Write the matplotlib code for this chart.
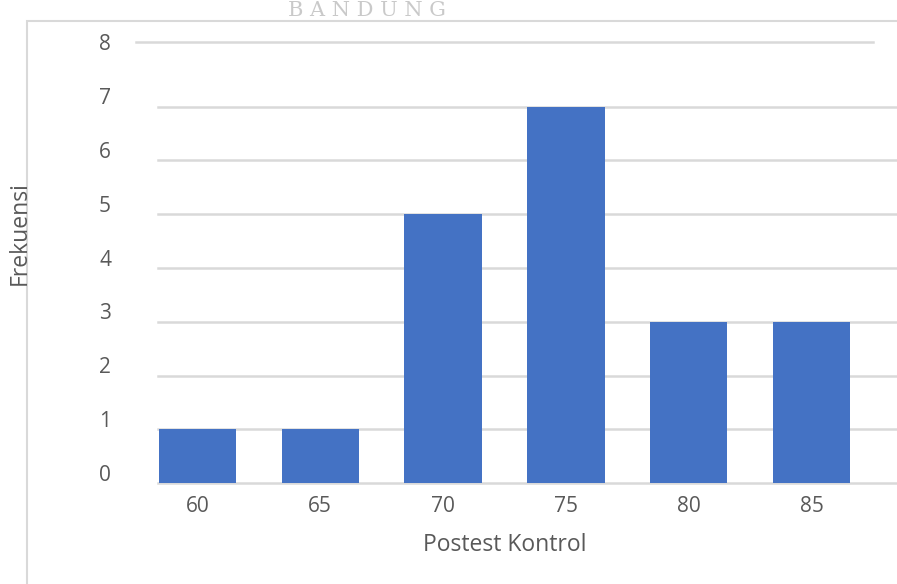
import matplotlib.pyplot as plt
import matplotlib.transforms as mtransforms
from matplotlib.patches import Rectangle

BAR_BLUE = '#4472C4'
GRID_GRAY = '#D9D9D9'
TEXT_GRAY = '#595959'

# Data
categories = ['60', '65', '70', '75', '80', '85']
frequencies = [1, 1, 5, 7, 3, 3]
y_ticks = [0, 1, 2, 3, 4, 5, 6, 7, 8]

plt.rcParams['font.family'] = ['Open Sans', 'DejaVu Sans']

fig = plt.figure(figsize=(8.97, 5.84), dpi=100, facecolor='white')

# chart frame (cropped from a document page)
fig.patches.append(Rectangle((27 / 897, -0.1), 1.1, 1 - 21 / 584 + 0.1,
                             transform=fig.transFigure, fill=False,
                             edgecolor=GRID_GRAY, linewidth=1.5))

# watermark remnant at the top
fig.text(367 / 897, 1 - 11 / 584, 'B A N D U N G', ha='center', va='center',
         fontsize=15, color='#C4C4C4', family='DejaVu Serif', alpha=0.9)

# plot area: 0 at y=483, 7 at y=107
ax = fig.add_axes([136 / 897, 1 - 483.3 / 584, 737 / 897, 441.3 / 584])
x = range(len(categories))
ax.bar(x, frequencies, width=0.63, color=BAR_BLUE, zorder=3)

ax.set_xlim(-0.5, len(categories) - 0.5)
ax.set_ylim(0, 8.2)
ax.set_xticks(list(x))
ax.set_xticklabels(categories)
ax.set_yticks(y_ticks)

# horizontal gridlines (top one is the plot-area edge in the source)
for t in y_ticks[:-1]:
    ax.axhline(t, xmin=22 / 737, xmax=(897 - 136) / 737, color=GRID_GRAY,
               linewidth=1.8, zorder=1, clip_on=False)
ax.axhline(8.2, color=GRID_GRAY, linewidth=1.8, zorder=1, clip_on=False)

for s in ax.spines.values():
    s.set_visible(False)

ax.tick_params(axis='both', length=0, labelsize=15, labelcolor=TEXT_GRAY)
ax.tick_params(axis='y', pad=18)
ax.tick_params(axis='x', pad=9)

# y tick labels sit a little above their gridlines
shift = mtransforms.ScaledTranslation(0, 10.5 / 100, fig.dpi_scale_trans)
for lbl in ax.get_yticklabels():
    lbl.set_transform(lbl.get_transform() + shift)

ax.set_xlabel('Postest Kontrol', fontsize=16.5, color=TEXT_GRAY, labelpad=12)
fig.text(20 / 897, 1 - 233 / 584, 'Frekuensi', rotation=90, ha='center',
         va='center', fontsize=16.5, color=TEXT_GRAY)

fig.savefig('out.png', dpi=100, facecolor='white')
